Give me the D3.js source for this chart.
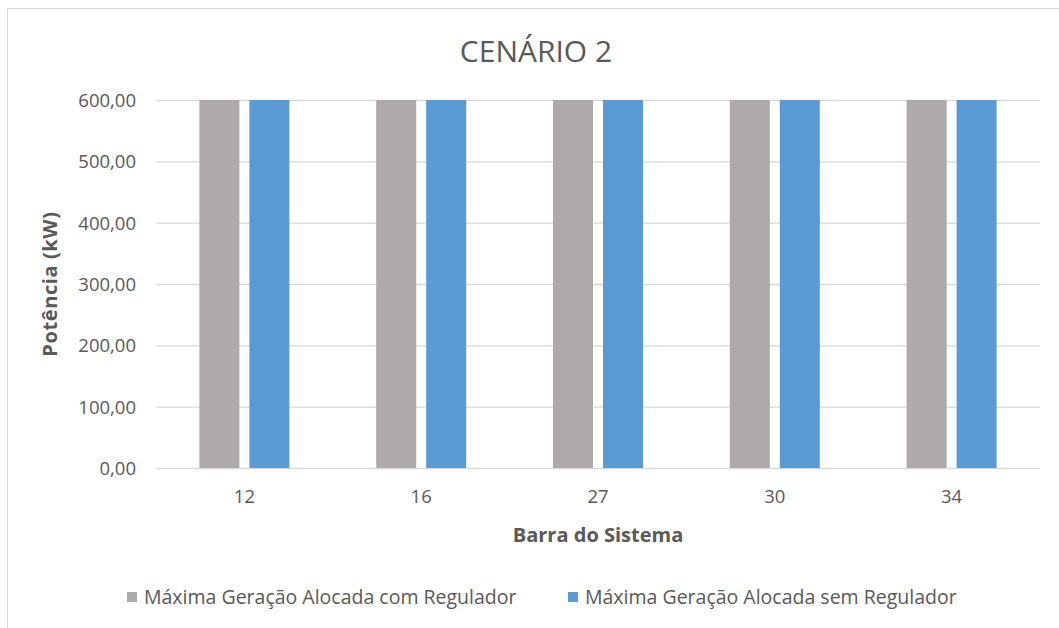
<!DOCTYPE html>
<html>
<head>
<meta charset="utf-8">
<script src="https://cdn.jsdelivr.net/npm/d3@7"></script>
<style>
  body { margin: 0; background: #fff; }
  text { font-family: "Open Sans", sans-serif; }
</style>
</head>
<body>
<div id="chart"></div>
<script>
var barras = ["12", "16", "27", "30", "34"];
var comRegulador = [600, 600, 600, 600, 600];
var semRegulador = [600, 600, 600, 600, 600];
var seriesNames = ["Máxima Geração Alocada com Regulador", "Máxima Geração Alocada sem Regulador"];
var seriesColors = ["#ADAAA9", "#5B9BD5"];
var yTicks = [0, 100, 200, 300, 400, 500, 600];

function drawChart() {
  var width = 1059, height = 628;
  var left = 156, right = 1040, top = 100, bottom = 468;

  var svg = d3.select('#chart').append('svg').attr('width', width).attr('height', height);

  // chart frame (clipped by the window at right and bottom)
  svg.append('rect')
    .attr('x', 7.5).attr('y', 8.5)
    .attr('width', 1070).attr('height', 640)
    .attr('fill', '#fff').attr('stroke', '#D9D9D9');

  var x = d3.scaleBand().domain(barras).range([left, right]);
  var y = d3.scaleLinear().domain([0, 600]).range([bottom, top]);

  // gridlines
  var yAxis = d3.axisLeft(y).tickValues(yTicks).tickSize(-(right - left)).tickPadding(20)
    .tickFormat(function (d) { return d3.format('.2f')(d).replace('.', ','); });
  var gy = svg.append('g').attr('transform', 'translate(' + left + ',0)').call(yAxis);
  gy.select('.domain').remove();
  gy.selectAll('line').attr('stroke', '#D9D9D9').attr('stroke-width', 1.3);
  gy.selectAll('text').attr('fill', '#595959').style('font-size', '18.5px').attr('dy', '0.35em');

  var xAxis = d3.axisBottom(x).tickSize(0).tickPadding(22);
  var gx = svg.append('g').attr('transform', 'translate(0,' + bottom + ')').call(xAxis);
  gx.select('.domain').remove();
  gx.selectAll('text').attr('fill', '#595959').style('font-size', '18.5px');

  var barW = 40, gap = 10;
  var data = [comRegulador, semRegulador];
  data.forEach(function (vals, s) {
    svg.append('g').selectAll('rect')
      .data(vals)
      .enter()
      .append('rect')
      .attr('x', function (d, i) { return x(barras[i]) + x.bandwidth() / 2 - barW - gap / 2 + s * (barW + gap); })
      .attr('y', function (d) { return y(d); })
      .attr('width', barW)
      .attr('height', function (d) { return y(0) - y(d); })
      .attr('fill', seriesColors[s]);
  });

  // title
  svg.append('text')
    .attr('x', 536).attr('y', 62)
    .attr('text-anchor', 'middle')
    .attr('fill', '#595959')
    .style('font-size', '30px')
    .text('CENÁRIO 2');

  // axis titles
  svg.append('text')
    .attr('transform', 'translate(57,' + ((top + bottom) / 2) + ') rotate(-90)')
    .attr('text-anchor', 'middle')
    .attr('fill', '#595959')
    .style('font-size', '20px').style('font-weight', 'bold')
    .style('letter-spacing', '0.6px')
    .text('Potência (kW)');

  svg.append('text')
    .attr('x', (left + right) / 2).attr('y', 542)
    .attr('text-anchor', 'middle')
    .attr('fill', '#595959')
    .style('font-size', '20px').style('font-weight', 'bold')
    .text('Barra do Sistema');

  // legend
  var legX = [127, 568];
  seriesNames.forEach(function (name, s) {
    svg.append('rect')
      .attr('x', legX[s]).attr('y', 592)
      .attr('width', 10).attr('height', 10)
      .attr('fill', seriesColors[s]);
    svg.append('text')
      .attr('x', legX[s] + 17).attr('y', 604)
      .attr('fill', '#595959')
      .style('font-size', '19.5px')
      .text(name);
  });
}
drawChart();
</script>
</body>
</html>
